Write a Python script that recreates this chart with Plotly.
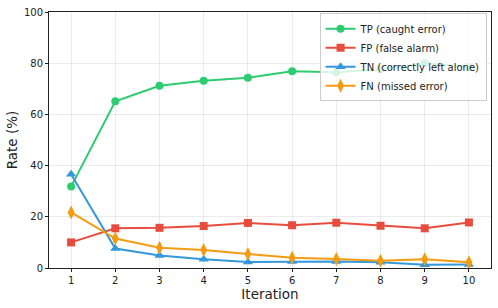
import plotly.graph_objects as go

iterations = [1, 2, 3, 4, 5, 6, 7, 8, 9, 10]
tp = [31.8, 65.1, 71.2, 73.1, 74.3, 76.9, 76.5, 77.6, 80.0, 78.5]
fp = [10.0, 15.5, 15.7, 16.4, 17.6, 16.7, 17.7, 16.5, 15.5, 17.8]
tn = [36.6, 7.6, 4.9, 3.4, 2.3, 2.5, 2.5, 2.2, 1.3, 1.4]
fn = [21.7, 11.5, 7.9, 7.0, 5.5, 4.0, 3.5, 2.8, 3.4, 2.2]

series = [
    ("TP (caught error)", tp, "#2ecc71", "circle", 8),
    ("FP (false alarm)", fp, "#e74c3c", "square", 8),
    ("TN (correctly left alone)", tn, "#3498db", "triangle-up", 9),
    ("FN (missed error)", fn, "#f39c12", "diamond-tall", 10),
]

fig = go.Figure()
for name, vals, color, sym, size in series:
    fig.add_trace(go.Scatter(
        x=iterations, y=vals, name=name, mode="lines+markers",
        line=dict(color=color, width=2),
        marker=dict(symbol=sym, size=size, color=color),
    ))

axis_common = dict(
    showline=True, linecolor="#222", linewidth=1, mirror=True,
    showgrid=True, gridcolor="rgba(0,0,0,0.08)", gridwidth=1,
    ticks="outside", ticklen=3, tickcolor="#222",
    tickfont=dict(family="DejaVu Sans", size=10, color="#222"),
    zeroline=False,
)

fig.update_layout(
    width=498, height=308,
    margin=dict(l=49, r=6, t=10, b=40),
    paper_bgcolor="white", plot_bgcolor="white",
    font=dict(family="DejaVu Sans", color="#222"),
    xaxis=dict(range=[0.5, 10.5], tickvals=iterations,
               title=dict(text="Iteration", font=dict(size=13.5), standoff=4),
               **axis_common),
    yaxis=dict(range=[0, 100], tickvals=[0, 20, 40, 60, 80, 100],
               title=dict(text="Rate (%)", font=dict(size=13.5), standoff=3),
               **axis_common),
    legend=dict(x=0.99, y=0.995, xanchor="right", yanchor="top",
                bgcolor="rgba(255,255,255,0.8)", bordercolor="#ccc", borderwidth=1,
                font=dict(size=10, family="DejaVu Sans"),
                tracegroupgap=0, itemwidth=30),
    showlegend=True,
)

fig.write_html("out.html", config={"displayModeBar": False})
with open("out.html", "r", encoding="utf-8") as f:
    html = f.read()
html = html.replace("<head>", "<head><style>html,body{margin:0;padding:0;overflow:hidden;}</style>", 1)
with open("out.html", "w", encoding="utf-8") as f:
    f.write(html)
